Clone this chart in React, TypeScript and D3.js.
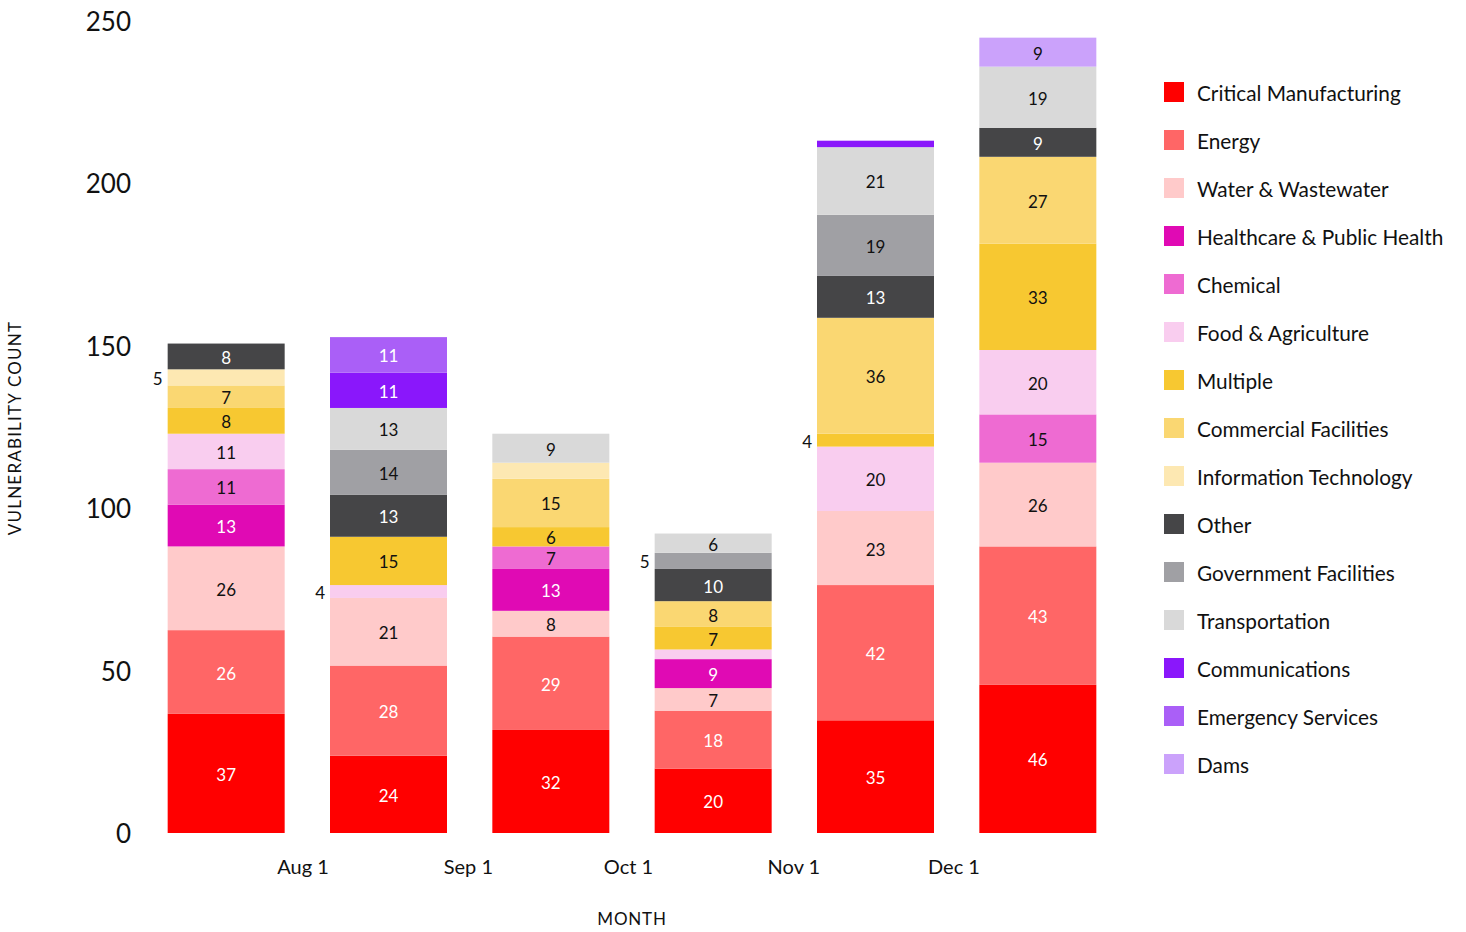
import * as d3 from 'd3'
import * as React from 'react'

//------------------------------data------------------------------
const WIDTH = 1466
const HEIGHT = 932

const months = ['2023-07-01', '2023-08-01', '2023-09-01', '2023-10-01', '2023-11-01', '2023-12-01']

const categories = [
  'Critical Manufacturing',
  'Energy',
  'Water & Wastewater',
  'Healthcare & Public Health',
  'Chemical',
  'Food & Agriculture',
  'Multiple',
  'Commercial Facilities',
  'Information Technology',
  'Other',
  'Government Facilities',
  'Transportation',
  'Communications',
  'Emergency Services',
  'Dams'
]

const colors = [
  '#ff0000', '#ff6666', '#ffcaca', '#e00ab4', '#ee6bd2', '#f9cdef', '#f7c831',
  '#fad772', '#fde8b2', '#454547', '#a0a0a4', '#d9d9d9', '#8a17fb', '#aa5ff7', '#cba2fb'
]

// white value labels on these
const darkCategories = ['Critical Manufacturing', 'Energy', 'Healthcare & Public Health', 'Other', 'Communications', 'Emergency Services']

// one row per month, same order as categories
const counts = [
  [37, 26, 26, 13, 11, 11, 8, 7, 5, 8, 0, 0, 0, 0, 0],
  [24, 28, 21, 0, 0, 4, 15, 0, 0, 13, 14, 13, 11, 11, 0],
  [32, 29, 8, 13, 7, 0, 6, 15, 5, 0, 0, 9, 0, 0, 0],
  [20, 18, 7, 9, 0, 3, 7, 8, 0, 10, 5, 6, 0, 0, 0],
  [35, 42, 23, 0, 0, 20, 4, 36, 0, 13, 19, 21, 2, 0, 0],
  [46, 43, 26, 0, 15, 20, 33, 27, 0, 9, 0, 19, 0, 0, 9]
]

// small segments labelled beside the bar: [month index, category]
const outsideLabels: [number, string][] = [
  [0, 'Information Technology'],
  [1, 'Food & Agriculture'],
  [3, 'Government Facilities'],
  [4, 'Multiple']
]

const yTicks = [0, 50, 100, 150, 200, 250]
const xTicks = ['2023-08-01', '2023-09-01', '2023-10-01', '2023-11-01', '2023-12-01']

const FONT = 'Lato, "Noto Sans", sans-serif'

//------------------------------Component------------------------------
export default function App() {
  const svgRef = React.useRef<SVGSVGElement>(null)

  React.useEffect(() => {
    const svg = d3.select(svgRef.current)
    svg.selectAll('*').remove()

    const parse = d3.timeParse('%Y-%m-%d')
    // tick labels follow calendar time
    const xTime = d3
      .scaleTime()
      .domain([parse('2023-08-01') as Date, parse('2023-12-01') as Date])
      .range([303, 954])
    // bars are evenly spaced
    const xBand = d3.scaleBand<string>().domain(months).range([145, 1119])
    const barW = 117
    const center = (m: string) => (xBand(m) as number) + xBand.bandwidth() / 2

    const y = d3.scaleLinear().domain([0, 250]).range([833, 28])
    const yLabel = d3.scaleLinear().domain([0, 250]).range([833, 21])

    const rows = months.map((m, i) => {
      const r: any = { month: m }
      categories.forEach((c, j) => (r[c] = counts[i][j]))
      return r
    })
    const series = d3.stack<any>().keys(categories)(rows)
    const color = d3.scaleOrdinal<string, string>().domain(categories).range(colors)

    // y axis labels
    svg
      .append('g')
      .selectAll('text')
      .data(yTicks)
      .join('text')
      .attr('x', 131)
      .attr('y', d => yLabel(d))
      .attr('text-anchor', 'end')
      .attr('dominant-baseline', 'central')
      .attr('font-size', 26)
      .attr('fill', '#111')
      .text(d => d)

    // x axis labels
    svg
      .append('g')
      .selectAll('text')
      .data(xTicks)
      .join('text')
      .attr('x', d => xTime(parse(d) as Date))
      .attr('y', 874)
      .attr('text-anchor', 'middle')
      .attr('font-size', 20)
      .attr('fill', '#111')
      .text(d => d3.timeFormat('%b %-d')(parse(d) as Date))

    const layers = svg
      .append('g')
      .selectAll('g')
      .data(series)
      .join('g')
      .attr('fill', s => color(s.key))

    layers
      .selectAll('rect')
      .data(s => s.filter(d => d[1] - d[0] > 0))
      .join('rect')
      .attr('x', d => center(d.data.month) - barW / 2)
      .attr('width', barW)
      .attr('y', d => y(d[1]))
      .attr('height', d => y(d[0]) - y(d[1]))

    // value labels
    series.forEach(s => {
      s.forEach((d, i) => {
        const v = d[1] - d[0]
        if (v <= 0) return
        const cy = (y(d[0]) + y(d[1])) / 2 + 1
        const cx = center(d.data.month)
        const outside = outsideLabels.some(o => o[0] === i && o[1] === s.key)
        if (outside) {
          svg
            .append('text')
            .attr('x', cx - barW / 2 - 5)
            .attr('y', cy)
            .attr('text-anchor', 'end')
            .attr('dominant-baseline', 'central')
            .attr('font-size', 17)
            .attr('fill', '#111')
            .text(v)
        } else if (v >= 6) {
          svg
            .append('text')
            .attr('x', cx)
            .attr('y', cy)
            .attr('text-anchor', 'middle')
            .attr('dominant-baseline', 'central')
            .attr('font-size', 17)
            .attr('fill', darkCategories.includes(s.key) ? '#fff' : '#111')
            .text(v)
        }
      })
    })

    // legend
    const legend = svg
      .append('g')
      .selectAll('g')
      .data(categories)
      .join('g')
      .attr('transform', (_, i) => `translate(1164,${92 + i * 48})`)
    legend
      .append('rect')
      .attr('x', 0)
      .attr('y', -10)
      .attr('width', 20)
      .attr('height', 20)
      .attr('fill', d => color(d))
    legend
      .append('text')
      .attr('x', 33)
      .attr('y', 0)
      .attr('dominant-baseline', 'central')
      .attr('font-size', 20.8)
      .attr('fill', '#111')
      .text(d => d)

    // axis titles
    svg
      .append('text')
      .attr('transform', 'translate(21,428) rotate(-90)')
      .attr('text-anchor', 'middle')
      .attr('font-size', 17)
      .attr('fill', '#111')
      .attr('letter-spacing', 1.2)
      .text('VULNERABILITY COUNT')
    svg
      .append('text')
      .attr('x', 632)
      .attr('y', 925)
      .attr('text-anchor', 'middle')
      .attr('font-size', 17)
      .attr('fill', '#111')
      .attr('letter-spacing', 0.8)
      .text('MONTH')
  }, [])

  return (
    <svg
      ref={svgRef}
      width={WIDTH}
      height={HEIGHT}
      style={{ position: 'absolute', left: 0, top: 0, fontFamily: FONT }}
    />
  )
}
